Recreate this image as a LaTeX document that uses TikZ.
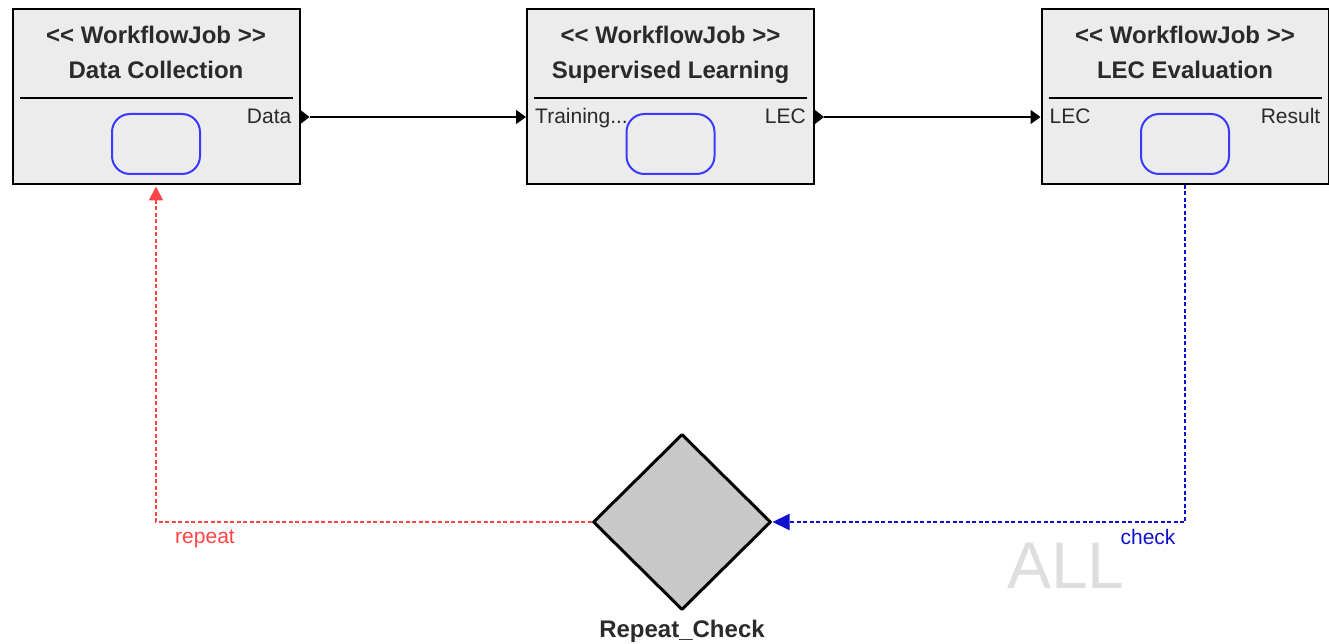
\documentclass[tikz,border=0pt]{standalone}
\usepackage{fontspec}
\setmainfont{Liberation Sans}
\usetikzlibrary{shapes.geometric,arrows.meta,calc}

\definecolor{jobfill}{HTML}{ECECEC}
\definecolor{textdark}{HTML}{2A2A2A}
\definecolor{actblue}{HTML}{3A3AFF}
\definecolor{repeatred}{HTML}{FF4545}
\definecolor{checkblue}{HTML}{1010D0}
\definecolor{decfill}{HTML}{C8C8C8}
\definecolor{watermark}{HTML}{DEDEDE}

% stereotype brackets, kept as plain characters (no guillemet ligature)
\newcommand\stereotype[1]{<\kern0pt< #1 >\kern0pt>}

\begin{document}
\begin{tikzpicture}[x=1pt,y=-1pt,
  job/.style={draw=black, line width=2pt, fill=jobfill, minimum width=287pt,
    minimum height=175pt, inner sep=0pt, anchor=north west},
  jobtitle/.style={anchor=base, inner sep=0pt, text=textdark,
    font=\fontsize{24}{28}\selectfont\bfseries},
  separator/.style={draw=black, line width=1.5pt},
  activity/.style={draw=actblue, line width=2pt, rounded corners=18pt,
    minimum width=88pt, minimum height=60pt, inner sep=0pt},
  portlabel/.style={inner sep=0pt, text=textdark,
    font=\fontsize{21}{25}\selectfont},
  flow/.style={draw=black, line width=1.6pt, -{Triangle[length=10pt,width=14pt]}},
  ctrlflow/.style={line width=2pt, dash pattern=on 4pt off 2.5pt},
  repeatflow/.style={ctrlflow, draw=repeatred,
    -{Triangle[length=14pt,width=14pt]}, shorten >=1.5pt},
  checkflow/.style={ctrlflow, draw=checkblue,
    -{Triangle[length=17pt,width=16pt]}},
  decision/.style={diamond, draw=black, line width=3pt, line join=round,
    fill=decfill, minimum width=178pt, minimum height=176pt, inner sep=0pt},
  edgelabel/.style={anchor=base, inner sep=0pt, font=\fontsize{21}{25}\selectfont},
]
\useasboundingbox (0,0) rectangle (1329,644);

% ---- workflow job: Data Collection ----
\node[job] (dc) at (11.5,8) {};
\node[jobtitle] (dcstereo) at ($(dc.north)+(0,36)$) {\stereotype{WorkflowJob}};
\node[jobtitle] (dcname) at ($(dc.north)+(0,71)$) {Data Collection};
\draw[separator] ($(dc.north west)+(8,90)$) -- ($(dc.north east)+(-8,90)$);
\node[activity] (dcact) at ($(dc.north)+(0,136)$) {};
\node[portlabel, anchor=base east] (dcout) at ($(dc.north east)+(-9,116)$) {Data};
\coordinate (dcport) at ($(dc.north east)+(0,109)$);
\coordinate (dcporttip) at ($(dcport)+(9,0)$);
\fill[black] ($(dcport)+(0,-7)$) -- (dcporttip) -- ($(dcport)+(0,7)$) -- cycle;

% ---- workflow job: Supervised Learning ----
\node[job] (sl) at (526,8) {};
\node[jobtitle] (slstereo) at ($(sl.north)+(0,36)$) {\stereotype{WorkflowJob}};
\node[jobtitle] (slname) at ($(sl.north)+(0,71)$) {Supervised Learning};
\draw[separator] ($(sl.north west)+(8,90)$) -- ($(sl.north east)+(-8,90)$);
\node[activity] (slact) at ($(sl.north)+(0,136)$) {};
\node[portlabel, anchor=base west] (slin) at ($(sl.north west)+(9,116)$) {Training...};
\node[portlabel, anchor=base east] (slout) at ($(sl.north east)+(-9,116)$) {LEC};
\coordinate (slinport) at ($(sl.north west)+(0,109)$);
\coordinate (slport) at ($(sl.north east)+(0,109)$);
\coordinate (slporttip) at ($(slport)+(9,0)$);
\fill[black] ($(slport)+(0,-7)$) -- (slporttip) -- ($(slport)+(0,7)$) -- cycle;

% ---- workflow job: LEC Evaluation ----
\node[job] (le) at (1040.5,8) {};
\node[jobtitle] (lestereo) at ($(le.north)+(0,36)$) {\stereotype{WorkflowJob}};
\node[jobtitle] (lename) at ($(le.north)+(0,71)$) {LEC Evaluation};
\draw[separator] ($(le.north west)+(8,90)$) -- ($(le.north east)+(-8,90)$);
\node[activity] (leact) at ($(le.north)+(0,136)$) {};
\node[portlabel, anchor=base west] (lein) at ($(le.north west)+(9,116)$) {LEC};
\node[portlabel, anchor=base east] (leout) at ($(le.north east)+(-9,116)$) {Result};
\coordinate (leinport) at ($(le.north west)+(0,109)$);

% ---- data flows ----
\draw[flow] (dcporttip) -- (slinport);
\draw[flow] (slporttip) -- (leinport);

% ---- decision ----
\node[decision] (rc) at (682,522) {};
\node[jobtitle] (rclabel) at (682,637) {Repeat\_Check};

% ---- control flows ----
\coordinate (checkbend) at (le.south |- rc.east);
\coordinate (repeatbend) at (dc.south |- rc.west);
\draw[checkflow] (le.south) -- (checkbend) -- (rc.east);
\draw[repeatflow] (rc.west) -- (repeatbend) -- (dc.south);
\node[edgelabel, text=repeatred] (repeatlbl) at (205,543) {repeat};
\node[edgelabel, text=checkblue] (checklbl) at (1148,544) {check};

% ---- condition mode ----
\node[anchor=base west, inner sep=0pt, text=watermark,
  font=\fontsize{66}{70}\selectfont] (mode) at (1007,588) {ALL};
\end{tikzpicture}
\end{document}
